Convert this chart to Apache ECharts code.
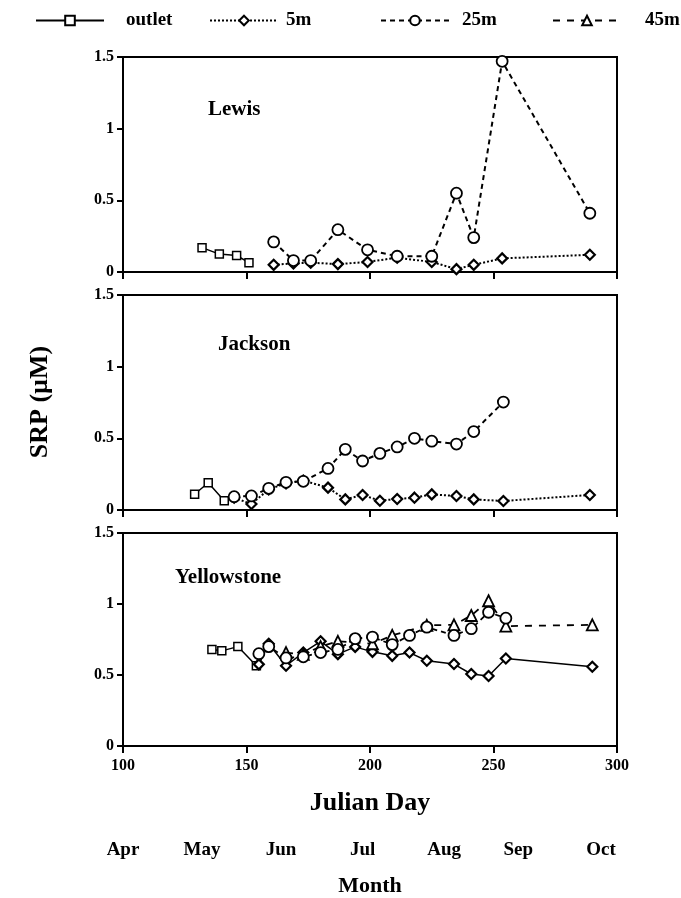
<!DOCTYPE html>
<html>
<head>
<meta charset="utf-8">
<script src="https://cdn.jsdelivr.net/npm/echarts@6/dist/echarts.min.js"></script>
<style>
  html, body { margin: 0; padding: 0; background: #fff; }
  #chart { width: 681px; height: 898px; }
</style>
</head>
<body>
<div id="chart"></div>
<script>
// [julian day, SRP µM]
const lewisOutlet = [[132, 0.17], [139, 0.125], [146, 0.115], [151, 0.065]];
const lewis5m = [[161, 0.05], [169, 0.06], [176, 0.065], [187, 0.055], [199, 0.07], [211, 0.1], [225, 0.07], [235, 0.02], [242, 0.05], [253.5, 0.095], [289, 0.12]];
const lewis25m = [[161, 0.21], [169, 0.08], [176, 0.08], [187, 0.295], [199, 0.155], [211, 0.11], [225, 0.11], [235, 0.55], [242, 0.24], [253.5, 1.47], [289, 0.41]];

const jacksonOutlet = [[129, 0.11], [134.5, 0.19], [141, 0.065]];
const jackson5m = [[145, 0.085], [152, 0.042], [159, 0.144], [166, 0.186], [173, 0.205], [183, 0.156], [190, 0.074], [197, 0.105], [204, 0.065], [211, 0.077], [218, 0.086], [225, 0.109], [235, 0.098], [242, 0.074], [254, 0.063], [289, 0.105]];
const jackson25m = [[145, 0.093], [152, 0.098], [159, 0.151], [166, 0.193], [173, 0.2], [183, 0.29], [190, 0.423], [197, 0.342], [204, 0.395], [211, 0.44], [218, 0.5], [225, 0.48], [235, 0.46], [242, 0.547], [254, 0.753]];

const yellowOutlet = [[136, 0.68], [140, 0.67], [146.5, 0.7], [154, 0.565]];
const yellow5m = [[155, 0.575], [159, 0.72], [166, 0.565], [173, 0.658], [180, 0.737], [187, 0.647], [194, 0.698], [201, 0.663], [209, 0.635], [216, 0.658], [223, 0.6], [234, 0.577], [241, 0.507], [248, 0.493], [255, 0.616], [290, 0.558]];
const yellow25m = [[155, 0.65], [159, 0.7], [166, 0.62], [173, 0.628], [180, 0.658], [187, 0.68], [194, 0.756], [201, 0.767], [209, 0.714], [216, 0.779], [223, 0.837], [234, 0.779], [241, 0.826], [248, 0.942], [255, 0.9]];
const yellow45m = [[166, 0.658], [173, 0.645], [180, 0.7], [187, 0.737], [201, 0.72], [209, 0.779], [223, 0.85], [234, 0.853], [241, 0.919], [248, 1.023], [255, 0.844], [290, 0.853]];

const lakeNames = ['Lewis', 'Jackson', 'Yellowstone'];
const monthNames = ['Apr', 'May', 'Jun', 'Jul', 'Aug', 'Sep', 'Oct'];
const monthDays = [100, 132, 164, 197, 230, 260, 293.5];

const serif = '"Liberation Serif", "DejaVu Serif", serif';
const panelTops = [57, 295, 533];
const panelHeight = 215;

const chart = echarts.init(document.getElementById('chart'));

const grids = panelTops.map((top) => ({
  left: 123,
  width: 494,
  top: top,
  height: panelHeight,
  show: true,
  borderColor: '#000',
  borderWidth: 2,
  backgroundColor: 'transparent',
}));

const xAxes = panelTops.map((_, i) => ({
  type: 'value',
  gridIndex: i,
  min: 100,
  max: 300,
  interval: 50,
  axisLine: { lineStyle: { color: '#000', width: 2 } },
  axisTick: { length: 7, lineStyle: { color: '#000', width: 2 } },
  axisLabel: {
    show: i === 2,
    color: '#000',
    fontFamily: serif,
    fontWeight: 'bold',
    fontSize: 16,
    margin: 12,
  },
  splitLine: { show: false },
  name: i === 2 ? 'Julian Day' : '',
  nameLocation: 'middle',
  nameGap: 44,
  nameTextStyle: { color: '#000', fontFamily: serif, fontWeight: 'bold', fontSize: 26 },
}));

// month row under the julian day axis
xAxes.push({
  type: 'value',
  gridIndex: 2,
  min: 100,
  max: 300,
  position: 'bottom',
  offset: 87,
  axisLine: { show: false },
  axisTick: { show: false },
  splitLine: { show: false },
  axisLabel: {
    customValues: monthDays,
    formatter: (v) => monthNames[monthDays.indexOf(v)] ?? '',
    showMinLabel: true,
    showMaxLabel: true,
    color: '#000',
    fontFamily: serif,
    fontWeight: 'bold',
    fontSize: 19,
    margin: 8,
  },
  name: 'Month',
  nameLocation: 'middle',
  nameGap: 42,
  nameTextStyle: { color: '#000', fontFamily: serif, fontWeight: 'bold', fontSize: 22 },
});

const yAxes = panelTops.map((_, i) => ({
  type: 'value',
  gridIndex: i,
  min: 0,
  max: 1.5,
  interval: 0.5,
  axisLine: { show: true, lineStyle: { color: '#000', width: 2 } },
  axisTick: { show: true, length: 6, lineStyle: { color: '#000', width: 2 } },
  axisLabel: { color: '#000', fontFamily: serif, fontWeight: 'bold', fontSize: 16, margin: 9 },
  splitLine: { show: false },
}));

function makeSeries(name, panel, data, symbol, size, border, lineType, lineWidth) {
  return {
    name: name,
    type: 'line',
    xAxisIndex: panel,
    yAxisIndex: panel,
    data: data,
    symbol: symbol,
    symbolSize: size,
    showAllSymbol: true,
    animation: false,
    itemStyle: { color: '#fff', borderColor: '#000', borderWidth: border },
    lineStyle: { color: '#000', width: lineWidth, type: lineType },
  };
}

const dotted = [2, 2];
const dashed = [5, 4];
const longDash = [7, 7];

const series = [
  makeSeries('outlet', 0, lewisOutlet, 'rect', 8, 1.5, 'solid', 1.5),
  makeSeries('5m', 0, lewis5m, 'diamond', 10, 2.2, dotted, 2),
  makeSeries('25m', 0, lewis25m, 'circle', 11, 1.8, dashed, 2),
  makeSeries('outlet', 1, jacksonOutlet, 'rect', 8, 1.5, 'solid', 1.5),
  makeSeries('5m', 1, jackson5m, 'diamond', 10, 2.2, dotted, 2),
  makeSeries('25m', 1, jackson25m, 'circle', 11, 1.8, dashed, 2),
  makeSeries('outlet', 2, yellowOutlet, 'rect', 8, 1.5, 'solid', 1.5),
  makeSeries('5m', 2, yellow5m, 'diamond', 10, 2.2, 'solid', 1.5),
  makeSeries('45m', 2, yellow45m, 'triangle', 11, 1.8, longDash, 1.8),
  makeSeries('25m', 2, yellow25m, 'circle', 11, 1.8, dashed, 1.8),
];

const legendSpec = [
  { name: 'outlet', left: 35, pad: 17 },
  { name: '5m', left: 209, pad: 3 },
  { name: '25m', left: 380, pad: 8 },
  { name: '45m', left: 552, pad: 19 },
];

const legends = legendSpec.map((l) => ({
  data: [l.name],
  left: l.left,
  top: 11,
  padding: 0,
  itemWidth: 68,
  itemHeight: 12,
  selectedMode: false,
  textStyle: {
    color: '#000',
    fontFamily: serif,
    fontWeight: 'bold',
    fontSize: 19,
    padding: [0, 0, 0, l.pad],
  },
}));

const lakeLabelPos = [[208, 110], [218, 345], [175, 578]];

const graphic = lakeNames.map((name, i) => ({
  type: 'text',
  x: lakeLabelPos[i][0],
  y: lakeLabelPos[i][1],
  style: {
    text: name,
    fill: '#000',
    font: 'bold 21px ' + serif,
    verticalAlign: 'middle',
  },
}));

graphic.push({
  type: 'text',
  x: 40,
  y: 402,
  rotation: Math.PI / 2,
  style: {
    text: 'SRP (µM)',
    fill: '#000',
    font: 'bold 26px ' + serif,
    align: 'center',
    verticalAlign: 'middle',
  },
});

chart.setOption({
  animation: false,
  backgroundColor: '#fff',
  legend: legends,
  grid: grids,
  xAxis: xAxes,
  yAxis: yAxes,
  series: series,
  graphic: graphic,
});
</script>
</body>
</html>
